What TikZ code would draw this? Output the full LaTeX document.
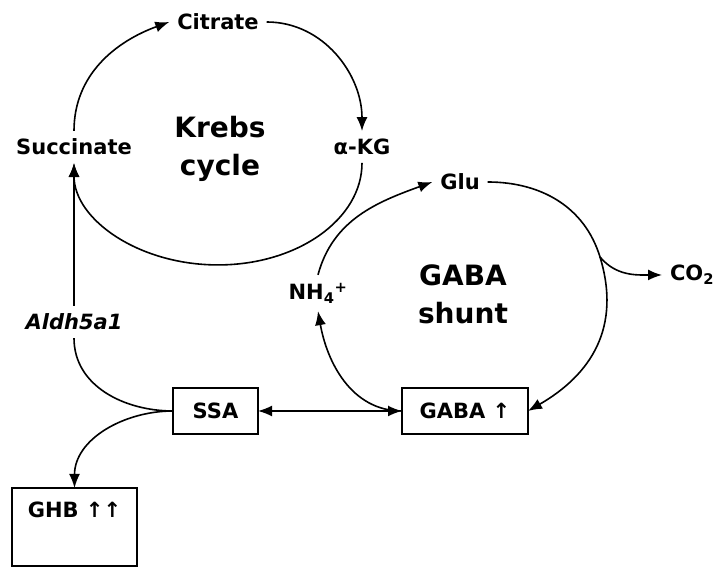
\documentclass[tikz,border=0pt]{standalone}
\usepackage{fontspec}
\setmainfont{DejaVu Sans}
\usetikzlibrary{arrows.meta,positioning}

\begin{document}
\begin{tikzpicture}[x=1pt,y=1pt,>={Latex[length=14pt,width=11pt]},
lbl/.style={font=\fontsize{21}{24}\selectfont\bfseries,inner sep=2pt,outer sep=6pt,align=center},
big/.style={font=\fontsize{28}{38}\selectfont\bfseries,align=center},
box/.style={draw,line width=2pt,minimum height=46pt,inner sep=2pt,outer sep=0pt},
flow/.style={line width=1.6pt}]
\useasboundingbox (0,0) rectangle (726,575);
% Krebs cycle
\node[lbl] (cit) at (218,553) {Citrate};
\node[lbl] (succ) at (74,428) {Succinate};
\node[lbl] (akg) at (362,428) {α-KG};
\node[big] (krebs) at (220,426) {Krebs\\cycle};
% GABA shunt
\node[lbl] (glu) at (460,393) {Glu};
\node[lbl] (co2) at (692,300) {CO\textsubscript{2}};
\node[lbl] (nh4) at (318,282) {NH\textsubscript{4}\textsuperscript{+}};
\node[big] (shunt) at (463,281) {GABA\\shunt};
\node[lbl,font=\fontsize{21}{24}\selectfont\bfseries\itshape] (aldh) at (74,253) {Aldh5a1};
\node[lbl,box,minimum width=85pt] (ssa) at (215.5,164) {SSA};
\node[lbl,box,minimum width=126pt] (gaba) at (465,164) {GABA ↑};
\node[box,minimum width=125pt,minimum height=78pt,
  label={[lbl,outer sep=0pt,anchor=north,yshift=-12pt]north:GHB ↑↑}] (ghb) at (74.5,48) {};
\coordinate (br) at (600,318);
% connectors
\draw[flow,->] (succ.north) to[out=90,in=200] (cit.west);
\draw[flow,->] (cit.east) to[out=0,in=90] (akg.north);
\draw[flow,->] (akg.south) arc[start angle=0,end angle=-180,x radius=144,y radius=102];
\draw[flow,->] (nh4.north) to[out=75,in=200] (glu.west);
\draw[flow] (glu.east) to[out=0,in=107] (br);
\draw[flow,->] (br) to[out=-73,in=30,looseness=1.1] (gaba.east);
\draw[flow,->] (br) to[out=-50,in=180] (co2.west);
\draw[flow,->] (gaba.west) to[out=180,in=-80] (nh4.south);
\draw[flow,<->] (ssa.east) -- (gaba.west);
\draw[flow,->] (aldh.north) -- (succ.south);
\draw[flow] (aldh.south) to[out=-90,in=180] (ssa.west);
\draw[flow,->] (ssa.west) to[out=180,in=90] (ghb.north);
\end{tikzpicture}
\end{document}
